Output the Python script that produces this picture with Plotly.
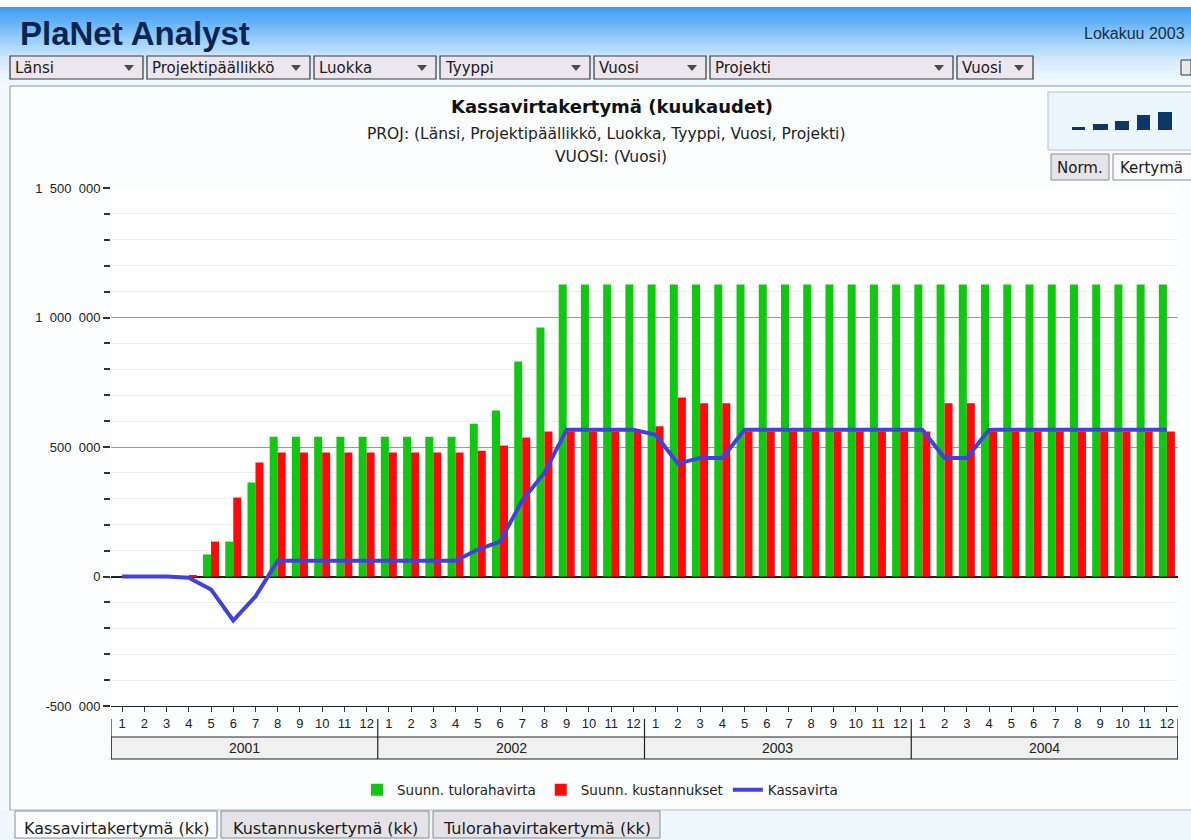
import plotly.graph_objects as go

# ---------------- data ----------------
years = ["2001", "2002", "2003", "2004"]
month_labels = ["1", "2", "3", "4", "5", "6", "7", "8", "9", "10", "11", "12"]

tulorahavirta = [  # Suunn. tulorahavirta (green)
    0, 0, 0, 0, 85000, 135000, 363000, 540000, 540000, 540000, 540000, 540000,
    540000, 540000, 540000, 540000, 590000, 641000, 830000, 961000, 1127000, 1127000, 1127000, 1127000,
    1127000, 1127000, 1127000, 1127000, 1127000, 1127000, 1127000, 1127000, 1127000, 1127000, 1127000, 1127000,
    1127000, 1127000, 1127000, 1127000, 1127000, 1127000, 1127000, 1127000, 1127000, 1127000, 1127000, 1127000,
]
kustannukset = [  # Suunn. kustannukset (red)
    0, 0, 0, 5000, 135000, 305000, 440000, 479000, 479000, 479000, 479000, 479000,
    479000, 479000, 479000, 479000, 486000, 506000, 537000, 560000, 560000, 560000, 560000, 560000,
    580000, 691000, 669000, 669000, 560000, 560000, 560000, 560000, 560000, 560000, 560000, 560000,
    560000, 669000, 669000, 560000, 560000, 560000, 560000, 560000, 560000, 560000, 560000, 560000,
]
kassavirta = [  # Kassavirta (blue line)
    0, 0, 0, -5000, -50000, -170000, -77000, 61000, 61000, 61000, 61000, 61000,
    61000, 61000, 61000, 61000, 104000, 135000, 293000, 401000, 567000, 567000, 567000, 567000,
    547000, 436000, 458000, 458000, 567000, 567000, 567000, 567000, 567000, 567000, 567000, 567000,
    567000, 458000, 458000, 567000, 567000, 567000, 567000, 567000, 567000, 567000, 567000, 567000,
]
y_tickvals = [-500000, 0, 500000, 1000000, 1500000]
y_ticktext = ["-500\u2007000", "0", "500\u2007000", "1\u2007000\u2007000", "1\u2007500\u2007000"]

dropdowns = ["Länsi", "Projektipäällikkö", "Luokka", "Tyyppi", "Vuosi", "Projekti", "Vuosi"]
tabs = ["Kassavirtakertymä (kk)", "Kustannuskertymä (kk)", "Tulorahavirtakertymä (kk)"]

# ---------------- geometry helpers ----------------
W, H = 1191, 840
L, R, T, B = 111, 1178, 188, 706
FONT = "Liberation Sans, Arial, sans-serif"
UIFONT = "DejaVu Sans, Verdana, sans-serif"


def px(x):
    return (x - L) / (R - L)


def py(y):
    return (B - y) / (B - T)


shapes = []
annotations = []


def rect(x0, y0, x1, y1, fill, line=None, lw=1, layer="below"):
    shapes.append(dict(type="rect", xref="paper", yref="paper",
                       x0=px(x0), x1=px(x1), y0=py(y1), y1=py(y0),
                       fillcolor=fill, layer=layer,
                       line=dict(color=line if line else "rgba(0,0,0,0)", width=lw if line else 0)))


def hline(x0, x1, y, color, lw=1, layer="above"):
    shapes.append(dict(type="line", xref="paper", yref="paper", x0=px(x0), x1=px(x1),
                       y0=py(y), y1=py(y), line=dict(color=color, width=lw), layer=layer))


def vline(x, y0, y1, color, lw=1, layer="above"):
    shapes.append(dict(type="line", xref="paper", yref="paper", x0=px(x), x1=px(x),
                       y0=py(y0), y1=py(y1), line=dict(color=color, width=lw), layer=layer))


def text(t, x, y, size=13, color="#222", anchor="left", bold=False, family=UIFONT):
    annotations.append(dict(text=("<b>%s</b>" % t) if bold else t, xref="paper", yref="paper",
                            x=px(x), y=py(y), xanchor=anchor, yanchor="middle", showarrow=False,
                            font=dict(family=family, size=size, color=color)))


def tri(cx, cy, color="#4a4a4a"):
    x0, x1, xm = px(cx - 5), px(cx + 5), px(cx)
    ya, yb = py(cy - 3), py(cy + 3)
    shapes.append(dict(type="path", xref="paper", yref="paper",
                       path="M %f,%f L %f,%f L %f,%f Z" % (x0, ya, x1, ya, xm, yb),
                       fillcolor=color, line=dict(width=0), layer="above"))


# ---------------- header gradient ----------------
stops = [(7, (66, 156, 245)), (25, (110, 185, 246)), (45, (170, 215, 250)),
         (60, (214, 235, 252)), (75, (236, 246, 253)), (87, (246, 251, 255))]
rect(0, 0, W, 8, "#ffffff")
for i in range(len(stops) - 1):
    ya, ca = stops[i]
    yb, cb = stops[i + 1]
    n_ = yb - ya
    for k in range(n_):
        f = k / n_
        c = tuple(int(ca[j] + (cb[j] - ca[j]) * f) for j in range(3))
        rect(0, ya + k, W, ya + k + 1.2, "rgb(%d,%d,%d)" % c)

text("PlaNet Analyst", 18, 34, size=33, color="#0c2550", bold=True, family=FONT)
text("Lokakuu 2003", 1082, 33, size=16, color="#1c2c48", family=FONT)

dd_boxes = [(10, 143), (147, 310), (314, 436), (440, 590), (594, 706), (710, 953), (957, 1033)]
for (x0, x1), lab in zip(dd_boxes, dropdowns):
    rect(x0, 56, x1, 79, "#ece6ee", "#3a3a3a", 1.2, layer="above")
    text(lab, x0 + 3, 68, size=15, color="#1a1a1a")
    tri(x1 - 14, 68)
rect(1181, 60, 1191, 75, "#e8e8e8", "#333", 1, layer="above")

# panel borders / bottom strip
hline(10, W, 86, "#a9b8c6", 1.5)
vline(10, 86, 811, "#a9b8c6", 1.5)
rect(0, 86, 10, 840, "#f2f9fd")
rect(0, 811, W, 840, "#eef8fc")
hline(10, W, 810, "#a9b8c6", 1.2)

# bottom tabs
tab_boxes = [(15, 217, "#fdfdfd"), (221, 429, "#e5e3e7"), (433, 660, "#e5e3e7")]
for (x0, x1, fc), lab in zip(tab_boxes, tabs):
    rect(x0, 811, x1, 838, fc, "#8c8c8c", 1, layer="above")
    text(lab, (x0 + x1) / 2, 828, size=16, color="#1a1a1a", anchor="center")

# mini chart widget (top-right icon)
rect(1048, 92, 1195, 150, "#ebf7fd", "#b5c4d0", 1)
mini = [(1072, 1085, 127), (1093, 1108, 124), (1115, 1129, 121), (1137, 1150, 115), (1158, 1172, 112)]
for x0, x1, y0 in mini:
    rect(x0, y0, x1, 130, "#0b3868", layer="above")
rect(1051, 154, 1109, 180, "#e6e4e8", "#8c8c8c", 1, layer="above")
text("Norm.", 1080, 168, size=15, color="#1a1a1a", anchor="center")
rect(1113, 154, 1196, 180, "#fbfbfb", "#8c8c8c", 1, layer="above")
text("Kertymä", 1118, 168, size=15, color="#1a1a1a")

# chart titles
text("Kassavirtakertymä (kuukaudet)", 612, 107, size=18, color="#111", anchor="center", bold=True)
text("PROJ: (Länsi, Projektipäällikkö, Luokka, Tyyppi, Vuosi, Projekti)", 606, 134, size=15.5,
     color="#222", anchor="center")
text("VUOSI: (Vuosi)", 611, 157, size=15.5, color="#222", anchor="center")

# ---------------- year boxes on the category axis ----------------
n = len(tulorahavirta)
shapes.append(dict(type="rect", xref="x", yref="paper", x0=-0.5, x1=n - 0.5,
                   y0=py(759), y1=py(737), fillcolor="#f0f0f0",
                   line=dict(color="#222", width=1), layer="below"))
for i in range(len(years) + 1):
    xb = i * 12 - 0.5
    shapes.append(dict(type="line", xref="x", yref="paper", x0=xb, x1=xb,
                       y0=py(759), y1=py(719), line=dict(color="#222", width=1.2)))
for i, yr in enumerate(years):
    annotations.append(dict(text=yr, xref="x", yref="paper", x=i * 12 + 5.5, y=py(748),
                            showarrow=False, xanchor="center", yanchor="middle",
                            font=dict(family=FONT, size=14, color="#222")))

# ---------------- traces ----------------
xs = list(range(n))
ticktext = month_labels * len(years)

fig = go.Figure()
fig.add_trace(go.Bar(x=xs, y=tulorahavirta, name="Suunn. tulorahavirta",
                     marker=dict(color="#11c811", line=dict(width=0))))
fig.add_trace(go.Bar(x=xs, y=kustannukset, name="Suunn. kustannukset",
                     marker=dict(color="#ff0a0a", line=dict(width=0))))
fig.add_trace(go.Scatter(x=xs, y=kassavirta, name="Kassavirta", mode="lines",
                         line=dict(color="#4141dc", width=4)))

fig.update_layout(
    template="none",
    width=W, height=H,
    margin=dict(l=L, r=W - R, t=T, b=H - B, autoexpand=False),
    paper_bgcolor="#fbfdfe",
    plot_bgcolor="#ffffff",
    barmode="group", bargap=0.28, bargroupgap=0,
    font=dict(family=FONT, size=12, color="#222"),
    showlegend=True,
    legend=dict(orientation="h", x=px(600), xanchor="center", y=py(790), yanchor="middle",
                bgcolor="rgba(0,0,0,0)", font=dict(family=UIFONT, size=13.5, color="#222"),
                itemwidth=30, traceorder="normal"),
    shapes=shapes,
    annotations=annotations,
    xaxis=dict(range=[-0.5, n - 0.5], tickmode="array", tickvals=xs, ticktext=ticktext,
               ticks="outside", ticklen=5, tickcolor="#333", tickwidth=1,
               showline=True, linecolor="#222", linewidth=1.2, mirror=False,
               showgrid=False, zeroline=False, automargin=False,
               tickfont=dict(family=FONT, size=13, color="#222")),
    yaxis=dict(range=[-500000, 1500000], tickmode="array", tickvals=y_tickvals, ticktext=y_ticktext,
               ticks="outside", ticklen=7, tickcolor="#333", tickwidth=1.5,
               showline=False, showgrid=True, gridcolor="#9a9a9a", gridwidth=1,
               zeroline=True, zerolinecolor="#222", zerolinewidth=1.5, automargin=False,
               tickfont=dict(family=FONT, size=13, color="#222"),
               minor=dict(dtick=100000, tick0=0, ticks="outside", ticklen=6, tickcolor="#333",
                          tickwidth=1.5, showgrid=True, gridcolor="#eeeeee", gridwidth=1)),
)

fig.write_html("out.html", config={"displayModeBar": False},
               post_script="document.body.style.margin='0';document.body.style.overflow='hidden';")
